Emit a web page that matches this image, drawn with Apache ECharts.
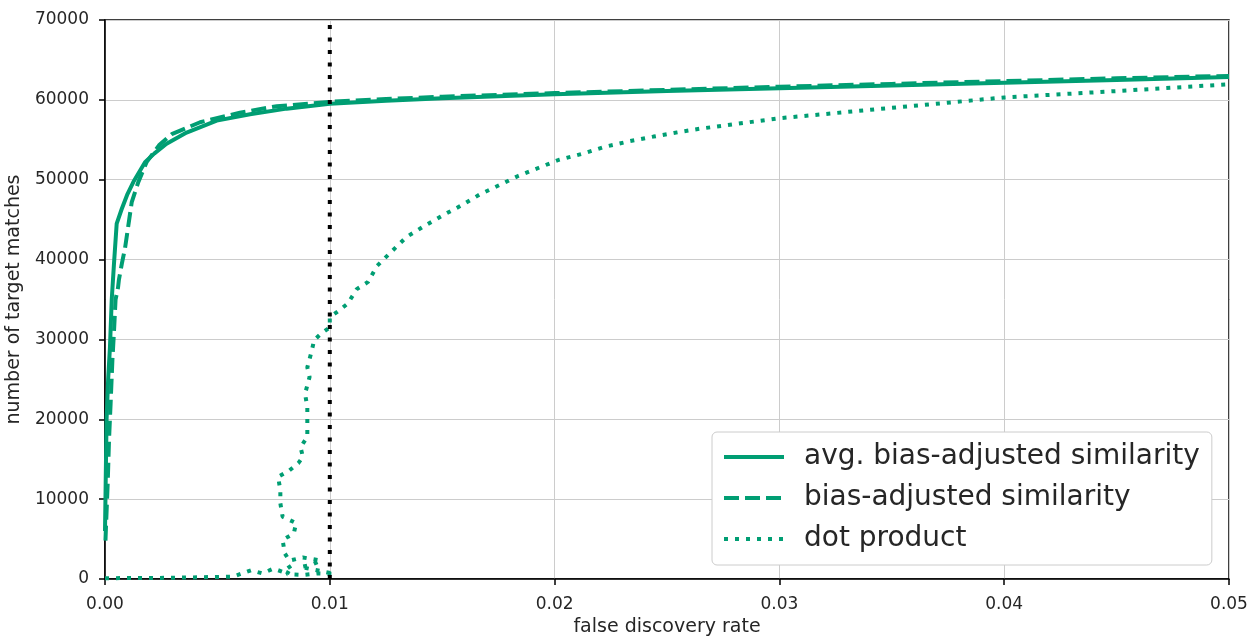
<!DOCTYPE html>
<html>
<head>
<meta charset="utf-8">
<script src="https://cdn.jsdelivr.net/npm/echarts@6/dist/echarts.min.js"></script>
<style>
html, body { margin: 0; padding: 0; background: #fff; }
#fdrChart { width: 1252px; height: 637px; }
</style>
</head>
<body>
<div id="fdrChart"></div>
<script>
// data
var xTicks = [0, 0.01, 0.02, 0.03, 0.04, 0.05];
var yTicks = [0, 10000, 20000, 30000, 40000, 50000, 60000, 70000];
var seriesNames = ['avg. bias-adjusted similarity', 'bias-adjusted similarity', 'dot product'];

var avgFdr  = [0, 0.00003, 0.00007, 0.00014, 0.00022, 0.0003, 0.0004, 0.00052, 0.00074, 0.001, 0.00126, 0.00178, 0.0022, 0.00274, 0.00363, 0.00497, 0.00645, 0.00808, 0.01, 0.0125, 0.015, 0.02, 0.025, 0.03, 0.035, 0.04, 0.045, 0.05];
var avgHits = [6000, 12000, 20000, 25000, 29000, 35000, 39500, 44500, 46300, 48200, 49700, 52200, 53300, 54500, 55900, 57400, 58200, 58900, 59500, 59900, 60200, 60700, 61100, 61450, 61800, 62150, 62500, 62850];

var biasFdr  = [0.00002, 0.00005, 0.00012, 0.00018, 0.00025, 0.00033, 0.0004, 0.00047, 0.00058, 0.00062, 0.00075, 0.00089, 0.00119, 0.00148, 0.00185, 0.0024, 0.00297, 0.00423, 0.006, 0.00764, 0.01, 0.0125, 0.015, 0.02, 0.025, 0.03, 0.035, 0.04, 0.045, 0.05];
var biasHits = [4800, 7000, 12000, 17500, 22000, 27500, 31000, 35000, 36500, 37500, 39500, 41400, 47200, 49700, 52200, 54300, 55700, 57200, 58400, 59200, 59750, 60100, 60400, 60850, 61250, 61650, 62000, 62350, 62700, 63000];

var dotFdr  = [0, 0.003, 0.0057, 0.0065, 0.007, 0.0075, 0.0079, 0.0083, 0.0081, 0.0088, 0.0095, 0.0102, 0.0087, 0.0092, 0.0096, 0.0088, 0.0082, 0.008, 0.0079, 0.0084, 0.0085, 0.0079, 0.0078, 0.0078, 0.0077, 0.0082, 0.0086, 0.0088, 0.0087, 0.009, 0.009, 0.009, 0.0089, 0.0091, 0.009, 0.0092, 0.0093, 0.0096, 0.01, 0.01, 0.0104, 0.0108, 0.0112, 0.0117, 0.0121, 0.0126, 0.0134, 0.0142, 0.015, 0.0158, 0.0167, 0.0176, 0.0184, 0.0193, 0.0202, 0.0213, 0.0222, 0.0233, 0.0244, 0.0254, 0.0265, 0.03, 0.035, 0.04, 0.045, 0.05];
var dotHits = [100, 150, 300, 1100, 700, 1300, 900, 1700, 600, 500, 700, 650, 1500, 1800, 2300, 2700, 2300, 3200, 4900, 5700, 7000, 7800, 9500, 11100, 12800, 13600, 14500, 15300, 16500, 17800, 19900, 21500, 23200, 25300, 26500, 28600, 29900, 30700, 31500, 32800, 33600, 34500, 36300, 37200, 39200, 40600, 42800, 44200, 45500, 46700, 48200, 49400, 50500, 51500, 52500, 53300, 54100, 54800, 55400, 55900, 56400, 57700, 59000, 60300, 61100, 61950];

var cutoffFdr = 0.01;

var fdrChart;
var green = '#009e73';
var textColor = '#262626';

function pairs(xs, ys) {
    var out = [];
    for (var i = 0; i < xs.length; i++) {
        out.push([xs[i], ys[i]]);
    }
    return out;
}

function fdrOption() {
    return {
        animation: false,
        backgroundColor: '#fff',
        textStyle: { fontFamily: 'DejaVu Sans' },
        grid: {
            left: 105, right: 23, top: 20, bottom: 58,
            outerBoundsMode: 'none', containLabel: false,
            show: true, borderColor: '#000', borderWidth: 1.5
        },
        legend: {
            data: seriesNames,
            orient: 'vertical',
            left: 712, top: 432,
            itemWidth: 60, itemHeight: 24, itemGap: 13,
            padding: [11, 12, 12, 10],
            backgroundColor: '#fff',
            borderColor: '#cccccc', borderWidth: 1, borderRadius: 5,
            itemStyle: { opacity: 0 },
            lineStyle: { width: 4 },
            textStyle: { fontSize: 28, lineHeight: 24, color: textColor, padding: [0, 0, 0, 15], fontFamily: 'DejaVu Sans' }
        },
        xAxis: {
            type: 'value',
            min: xTicks[0], max: xTicks[xTicks.length - 1], interval: 0.01,
            name: 'false discovery rate', nameLocation: 'middle', nameGap: 38,
            nameTextStyle: { fontSize: 19, color: textColor },
            axisLine: { onZero: false, lineStyle: { color: '#000', width: 1.5 } },
            axisTick: { show: true, inside: false, length: 6, lineStyle: { color: '#000', width: 1.5 } },
            axisLabel: { fontSize: 17, color: textColor, margin: 17, formatter: function (v) { return v.toFixed(2); } },
            splitLine: { show: true, lineStyle: { color: '#cccccc', width: 1 } }
        },
        yAxis: {
            type: 'value',
            min: yTicks[0], max: yTicks[yTicks.length - 1], interval: 10000,
            name: 'number of target matches', nameLocation: 'middle', nameGap: 77,
            nameTextStyle: { fontSize: 19, color: textColor },
            axisLine: { show: true, onZero: false, lineStyle: { color: '#000', width: 1.5 } },
            axisTick: { show: true, inside: false, length: 6, lineStyle: { color: '#000', width: 1.5 } },
            axisLabel: { fontSize: 17, color: textColor, margin: 16, formatter: function (v) { return String(v); } },
            splitLine: { show: true, lineStyle: { color: '#cccccc', width: 1 } }
        },
        series: [
            {
                name: seriesNames[0], type: 'line', symbol: 'none', z: 3,
                data: pairs(avgFdr, avgHits),
                itemStyle: { color: green },
                lineStyle: { color: green, width: 4 }
            },
            {
                name: seriesNames[1], type: 'line', symbol: 'none', z: 3,
                data: pairs(biasFdr, biasHits),
                itemStyle: { color: green },
                lineStyle: { color: green, width: 4, type: [15, 6] }
            },
            {
                name: seriesNames[2], type: 'line', symbol: 'none', z: 3,
                data: pairs(dotFdr, dotHits),
                itemStyle: { color: green },
                lineStyle: { color: green, width: 4, type: [4, 7] }
            },
            {
                name: 'cutoff', type: 'line', symbol: 'none', z: 4,
                data: [[cutoffFdr, yTicks[0]], [cutoffFdr, yTicks[yTicks.length - 1]]],
                lineStyle: { color: '#000', width: 4, type: [4, 8.5] }
            }
        ]
    };
}

fdrChart = echarts.init(document.getElementById('fdrChart'));
fdrChart.setOption(fdrOption());
</script>
</body>
</html>
